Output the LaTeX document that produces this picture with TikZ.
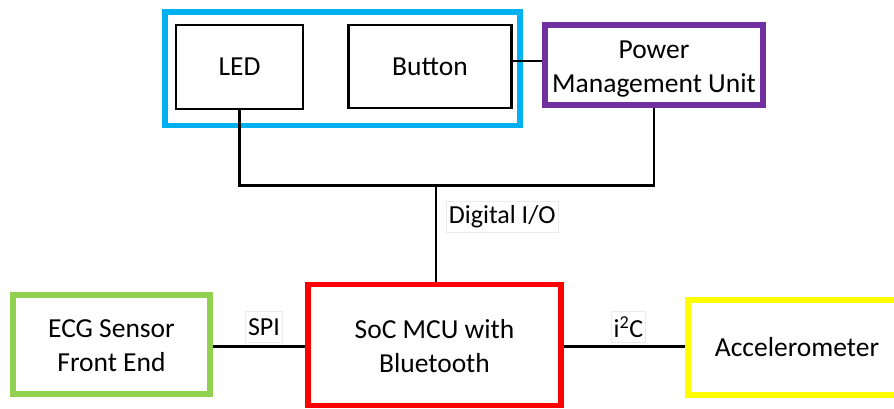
\documentclass[tikz,border=0pt]{standalone}
\usepackage{fontspec}
\setmainfont{Carlito}
\definecolor{cblue}{HTML}{00B0F0}
\definecolor{cpurple}{HTML}{7030A0}
\definecolor{cred}{HTML}{FF0000}
\definecolor{cgreen}{HTML}{92D050}
\definecolor{cyellow}{HTML}{FFFF00}
\newcommand{\topst}{\rule{0pt}{27pt}}
\newcommand{\botst}{\rule[-6pt]{0pt}{6pt}}
\tikzset{
  box/.style={draw=black, line width=2.4pt, fill=white, inner sep=0pt, align=center,
    font=\fontsize{27.5}{34}\selectfont},
  cbox/.style={box, line width=5.5pt},
  wire/.style={draw=black, line width=2.2pt},
  lab/.style={draw=black!8, line width=0.8pt, fill=white, inner xsep=2.5pt, inner ysep=0pt,
    minimum height=31pt, font=\fontsize{26}{34}\selectfont}
}
\begin{document}
\begin{tikzpicture}[x=1pt,y=-1pt]
\clip (0,0) rectangle (894,408);
\fill[white] (0,0) rectangle (894,408);
% group box
\node[cbox, draw=cblue, fill=none, minimum width=355pt, minimum height=113.5pt] (grp) at (342.5,68.75) {};
\node[box, minimum width=127pt, minimum height=84pt] (led) at (239.5,67) {LED};
\node[box, minimum width=163pt, minimum height=83pt] (btn) at (430,66.5) {Button};
\node[cbox, draw=cpurple, minimum width=218pt, minimum height=80pt] (pmu) at (654,65) {\topst Power\\Management Unit\botst};
\node[cbox, draw=cred, minimum width=253pt, minimum height=121pt] (soc) at (434.5,345) {\topst SoC MCU with\\Bluetooth\botst};
\node[cbox, draw=cgreen, minimum width=197pt, minimum height=98.7pt] (ecg) at (111.5,344.4) {\topst ECG Sensor\\Front End\botst};
\node[cbox, draw=cyellow, minimum width=218pt, minimum height=95pt] (acc) at (797,347.5) {Accelerometer};
% connectors
\coordinate (bus) at (436,185.5);
\draw[wire] (btn.east |- 0,61) -- (pmu.west |- 0,61);
\draw[wire] (led.south) |- (bus) -| (pmu.south);
\draw[wire] (bus) -- (bus |- soc.north);
\draw[wire] (ecg.east |- 0,346.5) -- (soc.west |- 0,346.5);
\draw[wire] (soc.east |- 0,346.5) -- (acc.west |- 0,346.5);
% labels
\node[lab, anchor=west] (dio) at (446,216.5) {Digital I/O};
\node[lab] (spi) at (264,327) {SPI};
\node[lab] (i2c) at (628.5,327) {i\textsuperscript{2}C};
\end{tikzpicture}
\end{document}
